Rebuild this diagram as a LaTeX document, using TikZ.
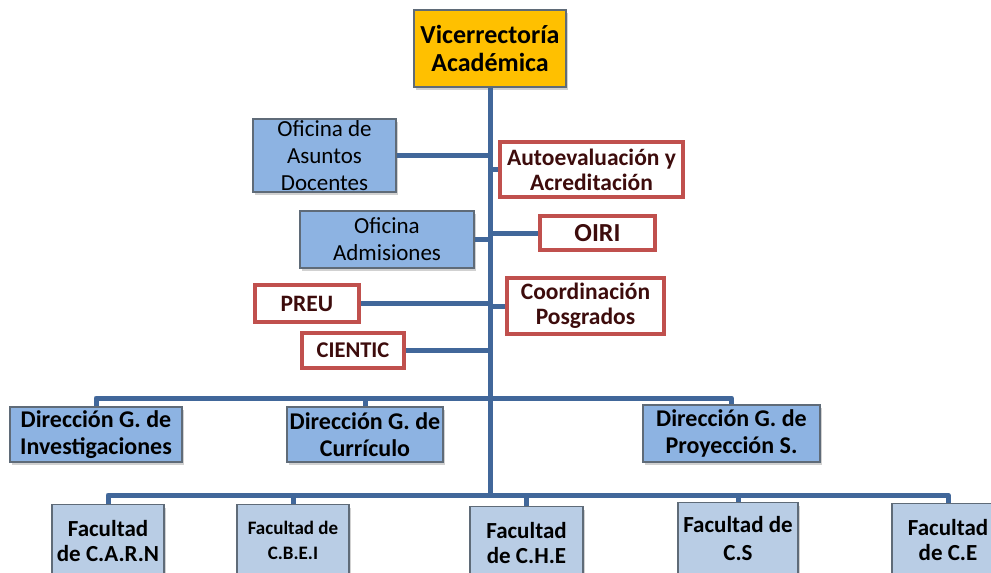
\documentclass[tikz,border=0pt]{standalone}
\usepackage{fontspec}
\setmainfont{Carlito}
\usepackage{xcolor}
\usetikzlibrary{shadows}

\definecolor{vicegold}{HTML}{FFC000}
\definecolor{ofblue}{HTML}{8DB3E2}
\definecolor{facblue}{HTML}{B9CDE5}
\definecolor{linkblue}{HTML}{41679A}
\definecolor{framered}{HTML}{C0504D}
\definecolor{textred}{HTML}{3D0C0C}
\definecolor{edgegray}{HTML}{5F6B78}

\begin{document}
\begin{tikzpicture}[
  x=1pt, y=-1pt,
  box/.style={draw=edgegray, line width=1.2pt, inner sep=0pt, align=center,
              drop shadow={shadow xshift=2pt, shadow yshift=-3pt,
                           opacity=0.3, fill=black!60}},
  ofbox/.style={box, fill=ofblue, font=\fontsize{23}{27}\selectfont},
  dirbox/.style={box, fill=ofblue, font=\fontsize{24}{27}\selectfont\bfseries},
  facbox/.style={box, fill=facblue, minimum height=72, anchor=north,
                 font=\fontsize{23}{25}\selectfont\bfseries},
  redbox/.style={draw=framered, line width=4pt, fill=white, inner sep=0pt,
                 align=center, text=textred,
                 font=\fontsize{23.5}{25}\selectfont\bfseries},
  link/.style={draw=linkblue, line width=5pt, line join=round}
]
\clip (0,0) rectangle (991,573);

\node[box, fill=vicegold, minimum width=152, minimum height=77,
      font=\fontsize{26}{28}\selectfont\bfseries] (vice) at (490,48.5)
      {Vicerrectoría\\Académica};

\node[ofbox, minimum width=143, minimum height=73] (ofasd) at (324.5,155.5)
      {Oficina de\\Asuntos\\Docentes};
\node[redbox, minimum width=183, minimum height=55] (autoev) at (591.5,169.5)
      {Autoevaluación y\\Acreditación};
\node[ofbox, minimum width=174, minimum height=57] (ofadm) at (387,239.5)
      {Oficina\\Admisiones};
\node[redbox, minimum width=115, minimum height=34,
      font=\fontsize{26}{28}\selectfont\bfseries] (oiri) at (597.5,233) {OIRI};
\node[redbox, minimum width=104, minimum height=37] (preu) at (307,303.5) {PREU};
\node[redbox, minimum width=157, minimum height=56] (coord) at (585.5,306)
      {Coordinación\\Posgrados};
\node[redbox, minimum width=102, minimum height=35,
      font=\fontsize{22.5}{25}\selectfont\bfseries] (cientic) at (353,350.5) {CIENTIC};

\node[dirbox, minimum width=172, minimum height=55] (dgi) at (96,434.5)
      {Dirección G. de\\Investigaciones};
\node[dirbox, minimum width=156, minimum height=55] (dgc) at (365,434.5)
      {Dirección G. de\\Currículo};
\node[dirbox, minimum width=177, minimum height=57] (dgp) at (731.5,433.5)
      {Dirección G. de\\Proyección S.};

\node[facbox, minimum width=112] (fcarn) at (108,504) {Facultad\\de C.A.R.N};
\node[facbox, minimum width=112, font=\fontsize{19}{25}\selectfont\bfseries]
      (fcbei) at (293,504) {Facultad de\\C.B.E.I};
\node[facbox, minimum width=113] (fche) at (526.5,506) {Facultad\\de C.H.E};
\node[facbox, minimum width=120, font=\fontsize{23}{28}\selectfont\bfseries]
      (fcs) at (738,502) {Facultad de\\C.S};
\node[facbox, minimum width=112] (fce) at (948,503) {Facultad\\de C.E};

% buses
\coordinate (bus1) at (490,398);
\coordinate (bus2) at (490,495);

\draw[link] (vice.south) -- (vice.south |- bus2);
\draw[link] (ofasd.east) -- (ofasd.east -| vice.south);
\draw[link] (autoev.west) -- (autoev.west -| vice.south);
\draw[link] (ofadm.east) -- (ofadm.east -| vice.south);
\draw[link] (oiri.west) -- (oiri.west -| vice.south);
\draw[link] (preu.east) -- (preu.east -| vice.south);
\draw[link] (coord.west) -- (coord.west -| vice.south);
\draw[link] (cientic.east) -- (cientic.east -| vice.south);

\draw[link] (dgi.north) -- (dgi.north |- bus1) -- (dgp.north |- bus1) -- (dgp.north);
\draw[link] (dgc.north) -- (dgc.north |- bus1);

\draw[link] (fcarn.north) -- (fcarn.north |- bus2) -- (fce.north |- bus2) -- (fce.north);
\draw[link] (fcbei.north) -- (fcbei.north |- bus2);
\draw[link] (fche.north) -- (fche.north |- bus2);
\draw[link] (fcs.north) -- (fcs.north |- bus2);
\end{tikzpicture}
\end{document}
